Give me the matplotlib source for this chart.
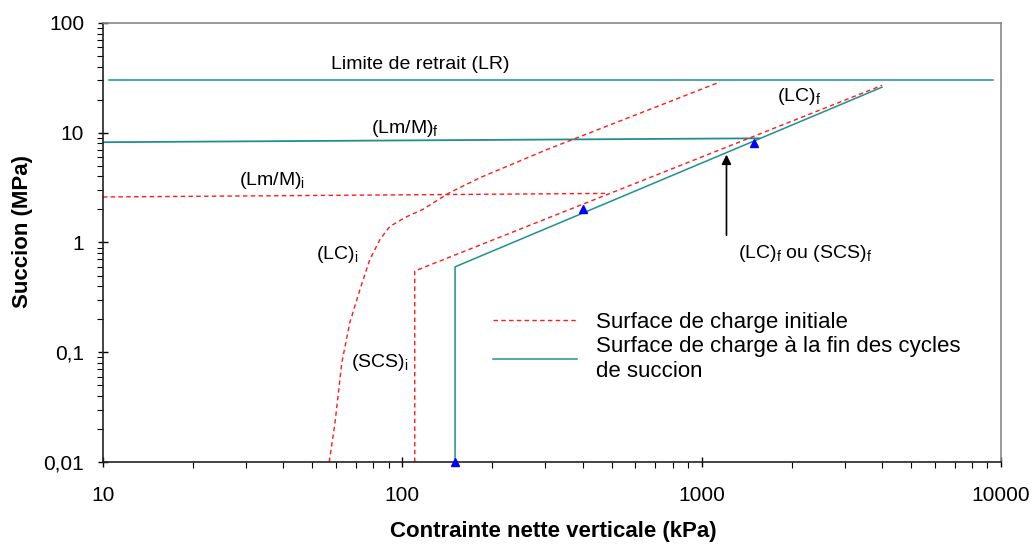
import matplotlib
matplotlib.use("Agg")
import matplotlib.pyplot as plt
from matplotlib.ticker import LogLocator, NullFormatter

plt.rcParams['font.family'] = ['Liberation Sans', 'DejaVu Sans']
plt.rcParams['mathtext.fontset'] = 'custom'
plt.rcParams['mathtext.rm'] = 'Liberation Sans'
plt.rcParams['mathtext.it'] = 'Liberation Sans'

# --- data (stress in kPa, suction in MPa) ---
lr_x = [10.5, 9400]
lr_y = [30, 30]

lmm_f_x = [10, 1560]
lmm_f_y = [8.2, 8.9]

lmm_i_x = [10, 475]
lmm_i_y = [2.6, 2.8]

lc_f_x = [150, 150, 4000]
lc_f_y = [0.01, 0.6, 26]

scs_i_x = [110, 110, 4000]
scs_i_y = [0.01, 0.55, 27]

lc_i_x = [57, 59.6, 62.8, 66.8, 72.2, 77.9, 84.1, 90.8, 103.5, 117, 144, 182, 303, 1150]
lc_i_y = [0.01, 0.023, 0.081, 0.187, 0.374, 0.70, 1.06, 1.40, 1.72, 2.0, 2.85, 3.9, 7.0, 29]

pts_x = [150, 400, 1500]
pts_y = [0.01, 2, 8]

x_ticks = [10, 100, 1000, 10000]
x_labels = ["10", "100", "1000", "10000"]
y_ticks = [0.01, 0.1, 1, 10, 100]
y_labels = ["0,01", "0,1", "1", "10", "100"]

red = "#ff1a1a"
teal = "#1f8f8f"

fig = plt.figure(figsize=(10.35, 5.45), dpi=100)
ax = fig.add_axes([0.0995, 0.1523, 0.8677, 0.8055])

dash = (0, (3.2, 2.4))
ax.plot(lr_x, lr_y, color=teal, lw=1.1)
ax.plot(lmm_f_x, lmm_f_y, color=teal, lw=1.3)
ax.plot(lc_f_x, lc_f_y, color=teal, lw=1.1,
        label="Surface de charge à la fin des cycles\nde succion")
ax.plot(lmm_i_x, lmm_i_y, color=red, lw=1.0, linestyle=dash)
ax.plot(scs_i_x, scs_i_y, color=red, lw=1.0, linestyle=dash,
        label="Surface de charge initiale")
ax.plot(lc_i_x, lc_i_y, color=red, lw=1.0, linestyle=dash)
ax.plot(pts_x, pts_y, linestyle="none", marker="^", color="#0000ff",
        markersize=6, clip_on=False, zorder=5)

ax.set_xscale("log")
ax.set_yscale("log")
ax.set_xlim(10, 10000)
ax.set_ylim(0.01, 100)
ax.set_xticks(x_ticks, x_labels)
ax.set_yticks(y_ticks, y_labels)
ax.xaxis.set_minor_locator(LogLocator(base=10, subs=range(2, 10)))
ax.yaxis.set_minor_locator(LogLocator(base=10, subs=range(2, 10)))
ax.xaxis.set_minor_formatter(NullFormatter())
ax.yaxis.set_minor_formatter(NullFormatter())
ax.tick_params(which="major", direction="inout", length=7, width=1, labelsize=15)
ax.tick_params(axis="x", which="major", pad=14)
ax.tick_params(axis="y", which="major", pad=10)
ax.tick_params(which="minor", direction="out", length=4, width=0.8)

for s in ["top", "right"]:
    ax.spines[s].set_color("#888888")
    ax.spines[s].set_linewidth(1.2)
for s in ["left", "bottom"]:
    ax.spines[s].set_color("#222222")
    ax.spines[s].set_linewidth(1.2)

ax.set_xlabel("Contrainte nette verticale (kPa)", fontsize=16, fontweight="bold", va="center")
ax.set_ylabel("Succion (MPa)", fontsize=16, fontweight="bold", va="center")
ax.xaxis.set_label_coords(0.501, -0.159)
ax.yaxis.set_label_coords(-0.090, 0.526)

fs = 14
ax.text(115, 42.3, "Limite de retrait (LR)", fontsize=fs, ha="center", va="center")
ax.text(102, 11.0, r"(Lm/M)$_{\mathrm{f}}$", fontsize=fs, ha="center", va="center")
ax.text(36.6, 3.71, r"(Lm/M)$_{\mathrm{i}}$", fontsize=fs, ha="center", va="center")
ax.text(60.4, 0.77, r"(LC)$_{\mathrm{i}}$", fontsize=fs, ha="center", va="center")
ax.text(84.2, 0.080, r"(SCS)$_{\mathrm{i}}$", fontsize=fs, ha="center", va="center")
ax.text(2110, 21.2, r"(LC)$_{\mathrm{f}}$", fontsize=fs, ha="center", va="center")
ax.text(2208, 0.80, r"(LC)$_{\mathrm{f}}$ ou (SCS)$_{\mathrm{f}}$", fontsize=fs, ha="center", va="center")
ax.annotate("", xy=(1210, 6.7), xytext=(1210, 1.1),
            arrowprops=dict(arrowstyle="-|>", color="black", lw=1.2, mutation_scale=14))

handles, labels = ax.get_legend_handles_labels()
leg = ax.legend(handles[::-1], labels[::-1], loc="upper left",
                bbox_to_anchor=(493 / 1035, 1 - 312 / 545), bbox_transform=fig.transFigure,
                frameon=False, fontsize=16, handlelength=3.8, handletextpad=0.85,
                labelspacing=0.15, borderpad=0, borderaxespad=0)

fig.savefig("out.png", dpi=100)
